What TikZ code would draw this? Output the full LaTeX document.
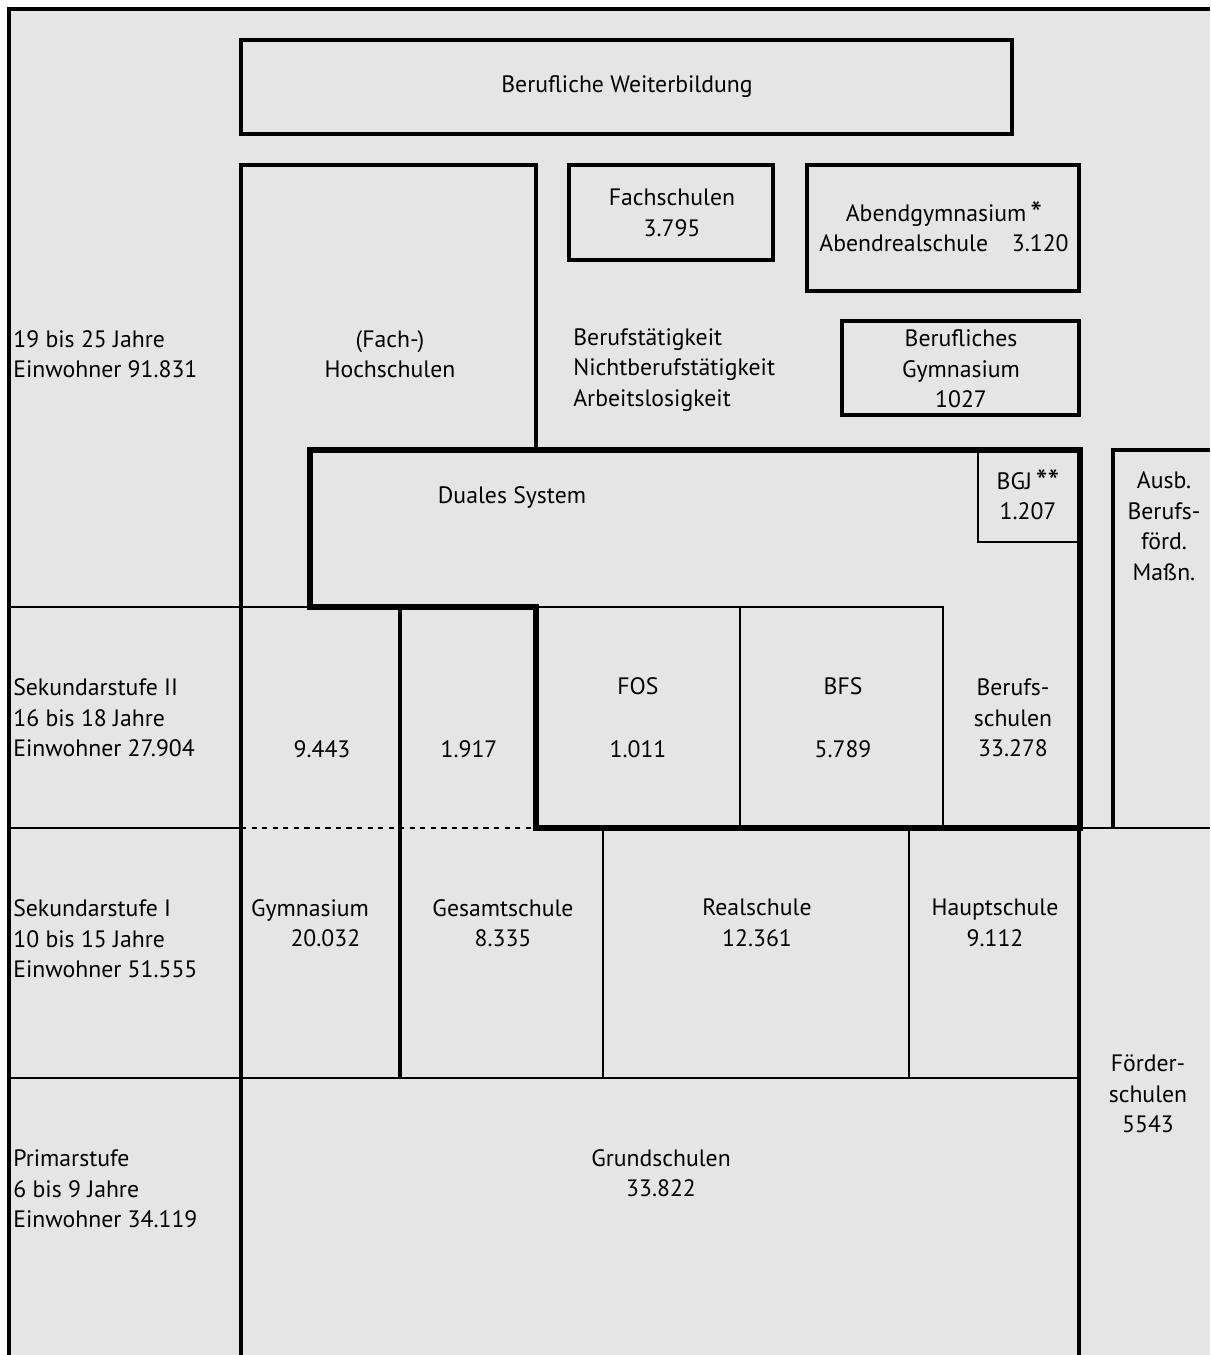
\documentclass[tikz,border=0pt]{standalone}
\usepackage{fontspec}
\setmainfont{PT Sans}
\definecolor{paper}{HTML}{E5E5E5}
\newcommand{\bigast}{\smash{\raisebox{-0.35ex}{\fontsize{19}{17}\selectfont*}}}

\begin{document}
\begin{tikzpicture}[
  x=0.02cm,
  y=-0.02cm,
  font=\fontsize{13.5}{17.4}\selectfont,
  line/.style={draw=black,line width=1.1pt},
  midline/.style={draw=black,line width=1.9pt},
  heavyline/.style={draw=black,line width=3pt},
  lbl/.style={align=center,inner sep=0pt},
  rowlbl/.style={align=left,anchor=west,inner sep=0pt}
]
\useasboundingbox (0,0) rectangle (1210,1355);

% Paper and outer frame
\fill[paper] (9,9) rectangle (1210,1355);
\draw[midline] (1210,9) -- (9,9) -- (9,1355);

% Upper boxes
\draw[midline] (241,40) rectangle (1012,134);
\draw[midline] (569,165) rectangle (773,260);
\draw[midline] (807,165) rectangle (1079,291);
\draw[midline] (842,321) rectangle (1079,415);

% (Fach-)Hochschulen column
\draw[midline] (241,1355) -- (241,165) -- (536,165) -- (536,450);

% Row borders
\draw[line] (9,607) -- (310,607);
\draw[line] (9,828) -- (241,828);
\draw[line,dashed] (241,828) -- (536,828);
\draw[line] (1080,828) -- (1210,828);
\draw[line] (9,1078) -- (1080,1078);

% Sekundarstufe II
\draw[line] (536,607) -- (943,607) -- (943,828);
\draw[line] (740,607) -- (740,828);
\draw[midline] (400,607) -- (400,1078);
\draw[line] (978,450) -- (978,542) -- (1080,542);

% Ausbildung box
\draw[midline] (1210,450) -- (1113,450) -- (1113,828);

% Sekundarstufe I
\draw[line] (603,828) -- (603,1078);
\draw[line] (909,828) -- (909,1078);
\draw[midline] (1079,828) -- (1079,1355);

% Duales System outline
\draw[heavyline] (310,450) -- (1080,450) -- (1080,828) -- (536,828)
  -- (536,607) -- (310,607) -- cycle;

% Texts
\node[lbl] (weiter) at (627,87) {Berufliche Weiterbildung};
\node[lbl] (hoch) at (390,354) {(Fach-)\\Hochschulen};
\node[lbl] (fach) at (672,213) {Fachschulen\\3.795};
\node[lbl] (abend) at (944,228) {Abendgymnasium\,\bigast\\Abendrealschule\quad 3.120};
\node[rowlbl] (beruf) at (573,370) {Berufstätigkeit\\Nichtberufstätigkeit\\Arbeitslosigkeit};
\node[lbl] (bgym) at (961,369) {Berufliches\\Gymnasium\\1027};
\node[rowlbl] (row1) at (13,354) {19 bis 25 Jahre\\Einwohner 91.831};

\node[lbl] (dual) at (512,497) {Duales System};
\node[lbl] (bgj) at (1028,496) {BGJ\,\bigast\bigast\\1.207};
\node[lbl] (ausb) at (1164,526) {Ausb.\\Berufs-\\förd.\\Maßn.};

\node[rowlbl] (row2) at (13,718) {Sekundarstufe II\\16 bis 18 Jahre\\Einwohner 27.904};
\node[lbl] (gym2) at (322,749) {9.443};
\node[lbl] (ges2) at (469,749) {1.917};
\node[lbl] (fos) at (638,718) {FOS\\[18.5pt]1.011};
\node[lbl] (bfs) at (843,718) {BFS\\[18.5pt]5.789};
\node[lbl] (bs) at (1013,718) {Berufs-\\schulen\\33.278};

\node[rowlbl] (row3) at (13,939) {Sekundarstufe I\\10 bis 15 Jahre\\Einwohner 51.555};
\node[lbl] (gym) at (310,923) {Gymnasium\\\hspace*{1.3em}20.032};
\node[lbl] (ges) at (503,923) {Gesamtschule\\8.335};
\node[lbl] (real) at (757,923) {Realschule\\12.361};
\node[lbl] (haupt) at (995,923) {Hauptschule\\9.112};
\node[lbl] (foerder) at (1148,1094) {Förder-\\schulen\\5543};

\node[rowlbl] (row4) at (13,1189) {Primarstufe\\6 bis 9 Jahre\\Einwohner 34.119};
\node[lbl] (grund) at (661,1173) {Grundschulen\\33.822};

\end{tikzpicture}
\end{document}
